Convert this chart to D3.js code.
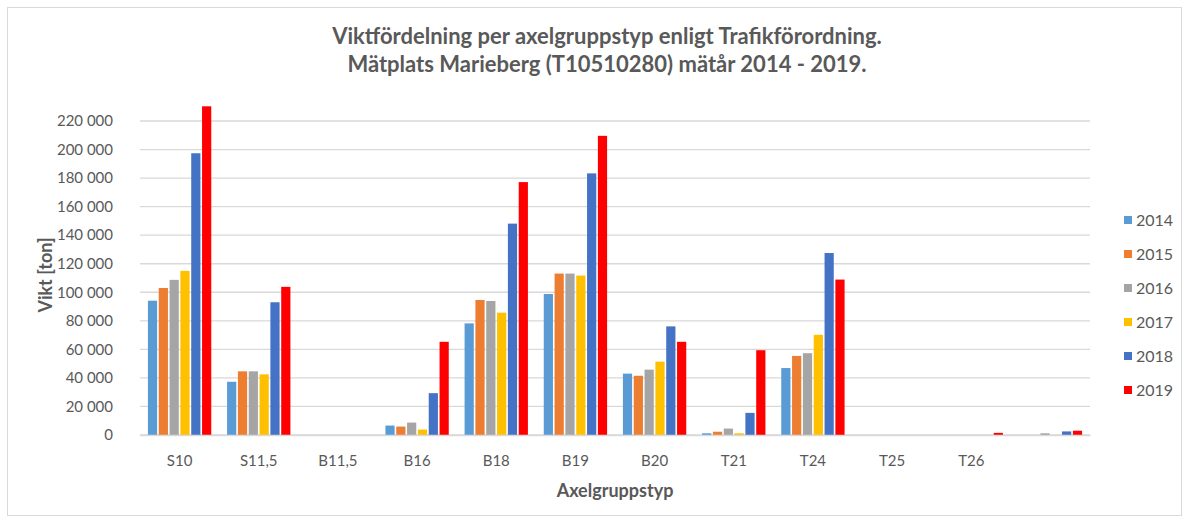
<!DOCTYPE html>
<html><head><meta charset="utf-8">
<script src="https://cdn.jsdelivr.net/npm/d3@7"></script>
<style>body{margin:0;background:#fff}svg{display:block}text{font-family:Lato,"Open Sans",sans-serif}</style>
</head><body><svg id="c" width="1189" height="523"></svg>
<script>
const categories = ["S10","S11,5","B11,5","B16","B18","B19","B20","T21","T24","T25","T26",""];
const years = ["2014","2015","2016","2017","2018","2019"];
const colors = ["#5B9BD5","#ED7D31","#A5A5A5","#FFC000","#4472C4","#FF0000"];
const v2014 = [94100,37300,0,6600,78200,98800,43000,1200,46900,0,0,0];
const v2015 = [103000,44600,0,5900,94600,113100,41500,2300,55400,0,0,0];
const v2016 = [108700,44600,0,8700,93900,113100,45800,4500,57300,0,0,1200];
const v2017 = [115000,42500,0,3800,85700,111700,51400,1200,70200,0,0,0];
const v2018 = [197400,93000,0,29300,148100,183300,76100,15500,127500,0,0,2500];
const v2019 = [230300,103800,0,65300,177200,209600,65300,59400,108900,0,1500,3000];
const yTicks = [0,20000,40000,60000,80000,100000,120000,140000,160000,180000,200000,220000];
const title1 = "Viktfördelning per axelgruppstyp enligt Trafikförordning.";
const title2 = "Mätplats Marieberg (T10510280) mätår 2014 - 2019.";

const series = [v2014,v2015,v2016,v2017,v2018,v2019];
const svg = d3.select("#c");
svg.append("rect").attr("x",7.5).attr("y",7.5).attr("width",1174).attr("height",508)
  .attr("fill","#fff").attr("stroke","#d9d9d9");

const m = {l:140, r:1090, t:121, b:435};
const x0 = d3.scaleBand().domain(categories).range([m.l,m.r]).padding(0);
const x1 = d3.scaleBand().domain(years).range([x0.bandwidth()*0.1, x0.bandwidth()*0.9]).paddingInner(0.15);
const y = d3.scaleLinear().domain([0,220000]).range([m.b,m.t]);
const fmt = d => d3.format(",")(d).replace(/,/g," ");

// gridlines
svg.append("g").selectAll("line").data(yTicks).join("line")
  .attr("x1",m.l).attr("x2",m.r).attr("y1",d=>y(d)).attr("y2",d=>y(d))
  .attr("stroke","#d9d9d9").attr("stroke-width",1.3);

// y axis labels
const ya = svg.append("g").attr("transform",`translate(${m.l},0)`)
  .call(d3.axisLeft(y).tickValues(yTicks).tickFormat(fmt).tickSize(0).tickPadding(27));
ya.select(".domain").remove();
ya.selectAll("text").attr("fill","#595959").style("font-size","15px").style("font-family","Lato,sans-serif");

// bars
const g = svg.append("g");
years.forEach((yr,i)=>{
  g.append("g").selectAll("rect").data(series[i]).join("rect")
    .attr("x",(d,j)=>x0(categories[j])+x1(yr))
    .attr("width",x1.bandwidth())
    .attr("y",d=>y(d)).attr("height",d=>y(0)-y(d))
    .attr("fill",colors[i]);
});

// x axis
const xa = svg.append("g").attr("transform",`translate(0,${m.b})`)
  .call(d3.axisBottom(x0).tickSize(0).tickPadding(20));
xa.select(".domain").attr("stroke","#d9d9d9").attr("stroke-width",1.3);
xa.selectAll("text").attr("fill","#595959").style("font-size","15px").style("font-family","Lato,sans-serif");

// titles
svg.append("text").attr("x",607).attr("y",44).attr("text-anchor","middle")
  .attr("fill","#595959").style("font-size","22px").style("font-weight","bold").text(title1);
svg.append("text").attr("x",607).attr("y",72).attr("text-anchor","middle")
  .attr("fill","#595959").style("font-size","22px").style("font-weight","bold").text(title2);

svg.append("text").attr("transform","translate(52,275) rotate(-90)").attr("text-anchor","middle")
  .attr("fill","#595959").style("font-size","18px").style("font-weight","bold").text("Vikt [ton]");
svg.append("text").attr("x",615).attr("y",497).attr("text-anchor","middle")
  .attr("fill","#595959").style("font-size","18px").style("font-weight","bold").text("Axelgruppstyp");

// legend
const lg = svg.append("g").selectAll("g").data(years).join("g")
  .attr("transform",(d,i)=>`translate(1124,${220+i*34})`);
lg.append("rect").attr("x",0).attr("y",-4).attr("width",8).attr("height",8).attr("fill",(d,i)=>colors[i]);
lg.append("text").attr("x",12).attr("y",5.5).attr("fill","#595959").style("font-size","16px").text(d=>d);
</script></body></html>
